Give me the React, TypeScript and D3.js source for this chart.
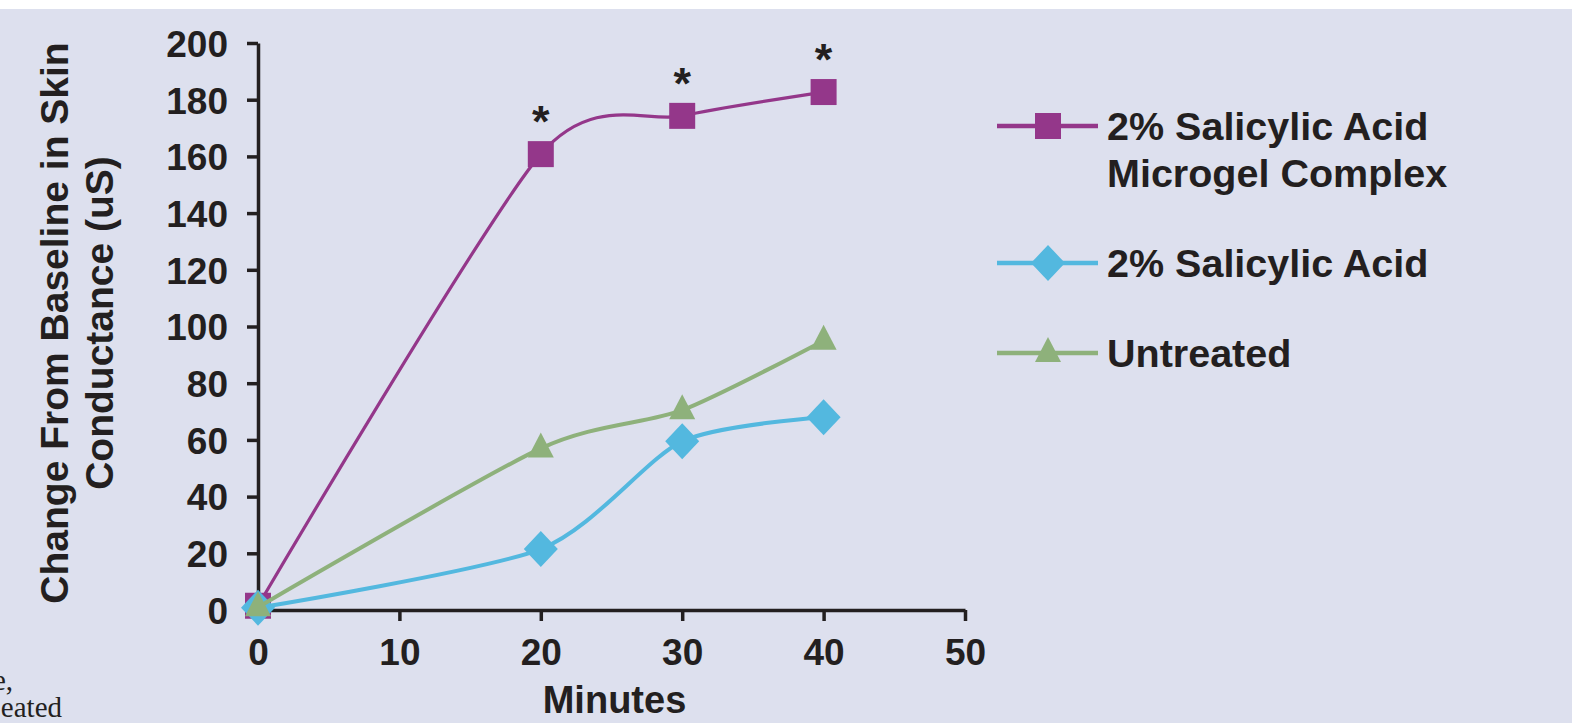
import { useEffect, useRef } from 'react'
import * as d3 from 'd3'

// values
const minutes = [0, 20, 30, 40]
const microgel = [1.5, 160.8, 174.3, 182.7]
const salicylic = [0.8, 21.5, 59.5, 68]
const untreated = [1, 57, 70.5, 95]
const significant = [false, true, true, true]

const xTicks = [0, 10, 20, 30, 40, 50]
const yTicks = [0, 20, 40, 60, 80, 100, 120, 140, 160, 180, 200]

const legendLabels = [
  ['2% Salicylic Acid', 'Microgel Complex'],
  ['2% Salicylic Acid'],
  ['Untreated'],
]
const yTitle = ['Change From Baseline in Skin', 'Conductance (uS)']
const xTitle = 'Minutes'
const captionBits = ['e,', 'eated']

const COLORS = {
  bg: '#dde0ee',
  ink: '#231f20',
  purple: '#94378a',
  blue: '#53b8df',
  green: '#8eb17b',
}
const FONT = '"Liberation Sans", Arial, sans-serif'

type Marker = 'square' | 'diamond' | 'triangle'

function markerPath(kind: Marker) {
  if (kind === 'square') return 'M-13,-13h26v26h-26Z'
  if (kind === 'diamond') return 'M0,-18L17,0L0,18L-17,0Z'
  return 'M0,-16L13,9L-13,9Z'
}

export default function App() {
  const svgRef = useRef<SVGSVGElement>(null)

  useEffect(() => {
    if (!svgRef.current) return
    const width = 1572
    const height = 723
    const svg = d3.select(svgRef.current)
    svg.selectAll('*').remove()

    svg.append('rect').attr('width', width).attr('height', height).attr('fill', '#ffffff')
    svg.append('rect').attr('y', 9).attr('width', width).attr('height', height - 9).attr('fill', COLORS.bg)

    const x = d3.scaleLinear().domain([0, 50]).range([258, 965])
    const y = d3.scaleLinear().domain([0, 200]).range([610, 43])

    // Axes
    const yAxis = svg.append('g').attr('transform', `translate(${x(0)},0)`)
      .call(d3.axisLeft(y).tickValues(yTicks).tickSize(11).tickSizeOuter(0).tickPadding(19))
    const xAxis = svg.append('g').attr('transform', `translate(0,${y(0)})`)
      .call(d3.axisBottom(x).tickValues(xTicks).tickSize(11).tickSizeOuter(0).tickPadding(18))

    for (const ax of [yAxis, xAxis]) {
      ax.select('.domain').attr('stroke', COLORS.ink).attr('stroke-width', 3.5)
      ax.selectAll('.tick line').attr('stroke', COLORS.ink).attr('stroke-width', 3.5)
      ax.selectAll('.tick text').attr('fill', COLORS.ink).attr('font-size', 37)
        .attr('font-family', FONT).attr('font-weight', 'bold')
    }
    yAxis.selectAll('.tick text').attr('dy', '0.36em')

    // Axis titles
    const yt = svg.append('text').attr('transform', 'translate(68,323) rotate(-90)')
      .attr('text-anchor', 'middle').attr('font-family', FONT).attr('font-weight', 'bold')
      .attr('font-size', 39).attr('fill', COLORS.ink)
    yt.append('tspan').attr('x', 0).attr('y', 0).text(yTitle[0])
    yt.append('tspan').attr('x', 0).attr('y', 45).text(yTitle[1])

    svg.append('text').attr('x', (x(20) + x(30)) / 2 + 3).attr('y', 713)
      .attr('text-anchor', 'middle').attr('font-family', FONT).attr('font-weight', 'bold')
      .attr('font-size', 38).attr('fill', COLORS.ink).text(xTitle)

    // Series
    const series: { vals: number[]; color: string; marker: Marker; lw: number }[] = [
      { vals: microgel, color: COLORS.purple, marker: 'square', lw: 3.2 },
      { vals: salicylic, color: COLORS.blue, marker: 'diamond', lw: 4 },
      { vals: untreated, color: COLORS.green, marker: 'triangle', lw: 4 },
    ]

    const line = d3.line<number>()
      .x((_, i) => x(minutes[i]))
      .y(d => y(d))
      .curve(d3.curveCardinal.tension(0.25))

    for (const s of series) {
      svg.append('path').datum(s.vals).attr('d', line)
        .attr('fill', 'none').attr('stroke', s.color).attr('stroke-width', s.lw)
      svg.append('g').selectAll('path').data(s.vals).join('path')
        .attr('transform', (d, i) => `translate(${x(minutes[i])},${y(d)})`)
        .attr('d', markerPath(s.marker)).attr('fill', s.color)
    }

    // Significance stars
    const starX = minutes.filter((_, j) => significant[j])
    svg.append('g').selectAll('text').data(microgel.filter((_, i) => significant[i])).join('text')
      .attr('x', (_, i) => x(starX[i]))
      .attr('y', d => y(d) - 17)
      .attr('text-anchor', 'middle').attr('font-family', FONT).attr('font-weight', 'bold')
      .attr('font-size', 45).attr('fill', COLORS.ink).text('*')

    // Legend
    const legY = [126, 263, 353]
    const leg = svg.append('g')
    series.forEach((s, i) => {
      leg.append('line').attr('x1', 997).attr('x2', 1098).attr('y1', legY[i]).attr('y2', legY[i])
        .attr('stroke', s.color).attr('stroke-width', 4.5)
      leg.append('path').attr('transform', `translate(1048,${legY[i]})`)
        .attr('d', markerPath(s.marker)).attr('fill', s.color)
      const t = leg.append('text').attr('font-family', FONT).attr('font-weight', 'bold')
        .attr('font-size', 39.5).attr('fill', COLORS.ink)
      legendLabels[i].forEach((l, k) => {
        t.append('tspan').attr('x', 1107).attr('y', legY[i] + 14 + k * 47).text(l)
      })
    })

    // Fragment of the surrounding caption, cut by the left edge
    svg.append('text').attr('x', 13).attr('y', 690).attr('text-anchor', 'end')
      .attr('font-family', '"Liberation Serif", serif').attr('font-size', 29).attr('fill', COLORS.ink)
      .text(captionBits[0])
    svg.append('text').attr('x', 62).attr('y', 717).attr('text-anchor', 'end')
      .attr('font-family', '"Liberation Serif", serif').attr('font-size', 29).attr('fill', COLORS.ink)
      .text(captionBits[1])
  }, [])

  return (
    <svg ref={svgRef} width={1572} height={723}
      style={{ position: 'absolute', left: 0, top: 0, display: 'block' }} />
  )
}
